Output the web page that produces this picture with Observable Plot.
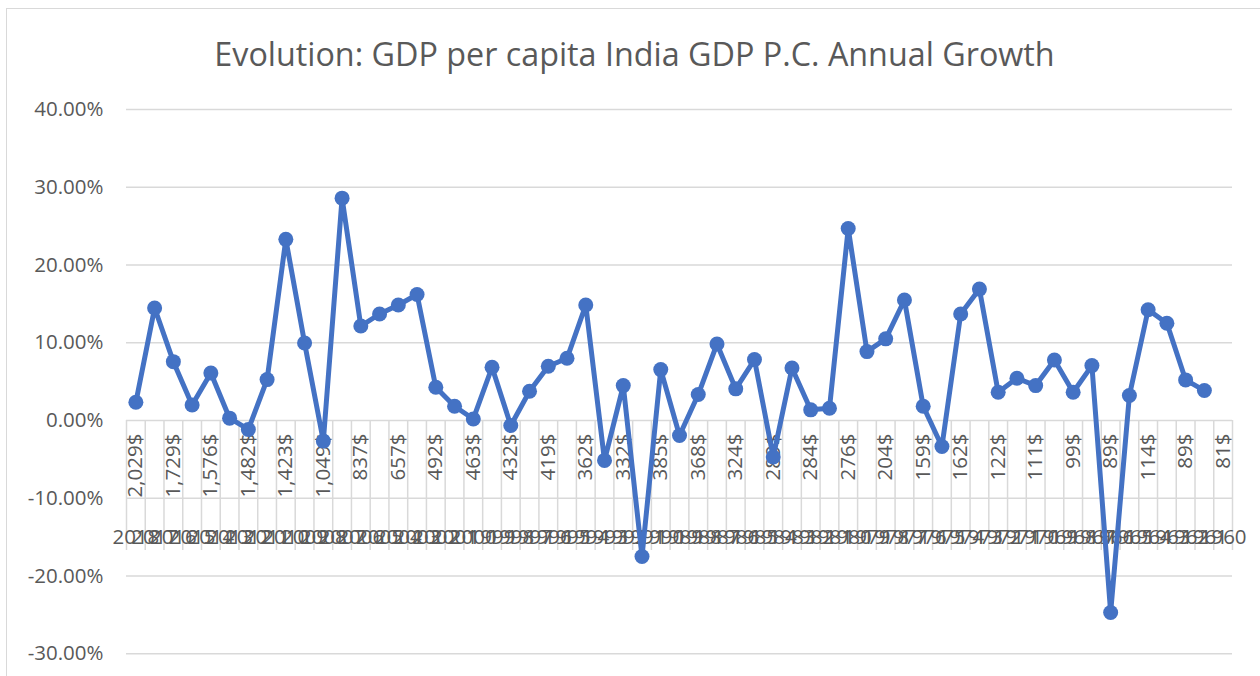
<!DOCTYPE html>
<html>
<head>
<meta charset="utf-8">
<script src="https://cdn.jsdelivr.net/npm/d3@7"></script>
<script src="https://cdn.jsdelivr.net/npm/@observablehq/plot@0.6"></script>
<style>
  html, body { margin: 0; padding: 0; background: #ffffff; width: 1260px; height: 676px; overflow: hidden; }
  #chart { position: relative; width: 1260px; height: 676px; }
  #chart svg { position: absolute; left: 0; top: 0; }
  #frame { position: absolute; left: 6px; top: 8px; width: 1300px; height: 700px;
           border-left: 1.5px solid #d9d9d9; border-top: 1.5px solid #d9d9d9; pointer-events: none; }
</style>
</head>
<body>
<div id="chart"><div id="frame"></div></div>
<script>
const titleText = "Evolution: GDP per capita India GDP P.C. Annual Growth";

// Categories (left to right)
const years = ["2018","2017","2016","2015","2014","2013","2012","2011","2010","2009",
  "2008","2007","2006","2005","2004","2003","2002","2001","2000","1999",
  "1998","1997","1996","1995","1994","1993","1992","1991","1990","1989",
  "1988","1987","1986","1985","1984","1983","1982","1981","1980","1979",
  "1978","1977","1976","1975","1974","1973","1972","1971","1970","1969",
  "1968","1967","1966","1965","1964","1963","1962","1961","1960"];

// Annual growth in % (2018 ... 1961; 1960 has no value)
const growth = [2.35, 14.47, 7.57, 2.0, 6.1, 0.3, -1.15, 5.26, 23.3, 9.97,
  -2.65, 28.6, 12.15, 13.7, 14.85, 16.2, 4.28, 1.84, 0.2, 6.85,
  -0.64, 3.77, 6.98, 8.0, 14.85, -5.13, 4.49, -17.5, 6.55, -1.93,
  3.34, 9.84, 4.07, 7.83, -4.7, 6.76, 1.37, 1.58, 24.7, 8.86,
  10.5, 15.5, 1.84, -3.34, 13.7, 16.9, 3.64, 5.43, 4.49, 7.79,
  3.64, 7.06, -24.7, 3.21, 14.25, 12.5, 5.22, 3.85];

// GDP per capita labels visible on the axis (every other category, starting 2018)
const gdpLabels = ["2,029$","1,729$","1,576$","1,482$","1,423$","1,049$","837$","657$","492$","463$",
  "432$","419$","362$","332$","385$","368$","324$","289$","284$","276$",
  "204$","159$","162$","122$","111$","99$","89$","114$","89$","81$"];
const gdpLabelYears = ["2018","2016","2014","2012","2010","2008","2006","2004","2002","2000",
  "1998","1996","1994","1992","1990","1988","1986","1984","1982","1980",
  "1978","1976","1974","1972","1970","1968","1966","1964","1962","1960"];

const yTicks = [-0.3, -0.2, -0.1, 0, 0.1, 0.2, 0.3, 0.4];

const series = growth.map((v, i) => ({year: years[i], value: v / 100}));
const gdpData = gdpLabels.map((t, i) => ({year: gdpLabelYears[i], label: t}));

// layout
const W = 1260, H = 676;
const plotLeft = 126, plotRight = 1232;
const step = (plotRight - plotLeft) / years.length;
const pxPerUnit = (420 - 109) / 0.4;
const axisDepthValue = -130 / pxPerUnit;
const blue = "#4472C4", grid = "#d9d9d9", textGray = "#595959";
const fs = 20.5;

const chart = Plot.plot({
  width: W,
  height: H,
  marginLeft: plotLeft,
  marginRight: W - plotRight,
  marginTop: 109,
  marginBottom: 0,
  x: {type: "point", domain: years, range: [plotLeft, plotRight], padding: 0.5, axis: null, label: null},
  y: {domain: [-0.4, 0.4], range: [109 + 0.8 * pxPerUnit, 109], axis: null, label: null},
  style: {fontFamily: "'Open Sans', sans-serif", color: textGray, background: "transparent"},
  marks: [
    Plot.ruleY(yTicks, {stroke: grid, strokeWidth: 1.5}),
    Plot.ruleX(years, {x: d => d, dx: -step / 2, y1: 0, y2: axisDepthValue, stroke: grid, strokeWidth: 1.5}),
    Plot.ruleX([years[years.length - 1]], {x: d => d, dx: step / 2, y1: 0, y2: axisDepthValue, stroke: grid, strokeWidth: 1.5}),
    Plot.axisY(yTicks, {tickSize: 0, tickPadding: 23, fontSize: fs, label: null,
      tickFormat: d => (d * 100).toFixed(2) + "%"}),
    Plot.text(gdpData, {x: "year", y: () => 0, text: "label", rotate: -90, textAnchor: "end",
      lineAnchor: "middle", dy: 13, fontSize: fs, fill: textGray}),
    Plot.text(years, {x: d => d, y: () => 0, text: d => d, lineAnchor: "bottom", dy: 123,
      fontSize: fs, fill: textGray}),
    Plot.line(series, {x: "year", y: "value", stroke: blue, strokeWidth: 5,
      strokeLinejoin: "round", strokeLinecap: "round"}),
    Plot.dot(series, {x: "year", y: "value", r: 7.5, fill: blue}),
    Plot.text([titleText], {frameAnchor: "top", text: d => d, dx: 634 - (plotLeft + plotRight) / 2,
      dy: 65 - 109, lineAnchor: "bottom", fontSize: 32.3, fill: textGray})
  ]
});
document.getElementById("chart").prepend(chart);
</script>
</body>
</html>
